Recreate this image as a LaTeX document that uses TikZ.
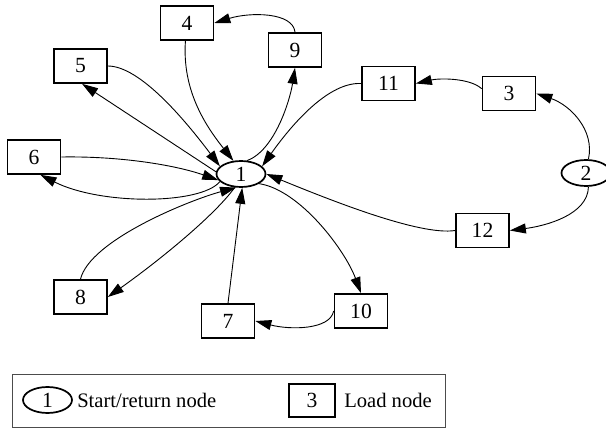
\documentclass[tikz,border=0pt]{standalone}
\usepackage{fontspec}
\setmainfont{Liberation Serif}
\usetikzlibrary{shapes,arrows.meta,positioning,calc}

\begin{document}
\begin{tikzpicture}[x=0.5pt,y=-0.5pt,
  load/.style={draw,line width=0.85pt,rectangle,minimum width=26.5pt,minimum height=17pt,inner sep=0pt,font=\fontsize{10.8}{12}\selectfont},
  depot/.style={draw,line width=0.85pt,ellipse,minimum width=24.5pt,minimum height=13pt,inner sep=0pt,font=\fontsize{10.8}{12}\selectfont},
  route/.style={line width=0.45pt,-{Triangle[length=8pt,width=5pt]}},
  legtxt/.style={inner sep=0pt,font=\fontsize{10.3}{12}\selectfont}]
\useasboundingbox (0,0) rectangle (606,428);

% Depots
\node[depot] (n1) at (241,174) {1};
\node[depot] (n2) at (586,173) {2};
% Load nodes
\node[load] (n3) at (509,93.5) {3};
\node[load] (n4) at (187,23) {4};
\node[load] (n5) at (80.5,66) {5};
\node[load] (n6) at (34,157) {6};
\node[load] (n7) at (228,321) {7};
\node[load] (n8) at (80.5,297) {8};
\node[load] (n9) at (295,50) {9};
\node[load] (n10) at (361,311) {10};
\node[load] (n11) at (388.5,83.5) {11};
\node[load] (n12) at (482.5,230.5) {12};

% Routes from depot 1
\draw[route] (n1.65) .. controls (275,150) and (290,100) .. (n9.south);
\draw[route] (n9.north) .. controls (293,12) and (250,12) .. (n4.east);
\draw[route] (n4.-95) .. controls (182,90) and (205,125) .. (n1.120);
\draw[route] (n5.east) .. controls (140,66) and (185,120) .. (n1.160);
\draw[route] (n1.175) -- (n5.-85);
\draw[route] (n6.east) .. controls (120,156) and (175,165) .. (n1.195);
\draw[route] (n1.200) .. controls (200,205) and (100,205) .. (n6.-70);
\draw[route] (n8.north) .. controls (90,240) and (190,200) .. (n1.250);
\draw[route] (n1.245) .. controls (215,215) and (160,260) .. (n8.east);
\draw[route] (n7.north) -- (n1.-85);
\draw[route] (n1.-28) .. controls (300,190) and (345,250) .. (n10.north);
\draw[route] (n10.west) .. controls (330,330) and (290,330) .. (n7.east);

% Routes from depot 2
\draw[route] (n2.80) .. controls (595,130) and (570,105) .. (n3.east);
\draw[route] (n3.170) .. controls (470,78) and (440,78) .. (n11.east);
\draw[route] (n11.west) .. controls (330,82) and (295,120) .. (n1.20);
\draw[route] (n2.-80) .. controls (588,215) and (545,226) .. (n12.east);
\draw[route] (n12.west) .. controls (420,236) and (330,200) .. (n1.east);

% Legend
\draw[gray!60!black,line width=0.5pt] (12,374) rectangle (445,427);
\node[depot] (lgdepot) at (47.5,400) {1};
\node[legtxt,right=2pt of lgdepot] (lgdepottxt) {Start/return node};
\node[load,minimum width=23pt,minimum height=16.5pt] (lgload) at (312,400.5) {3};
\node[legtxt,right=4pt of lgload] (lgloadtxt) {Load node};

\end{tikzpicture}
\end{document}
